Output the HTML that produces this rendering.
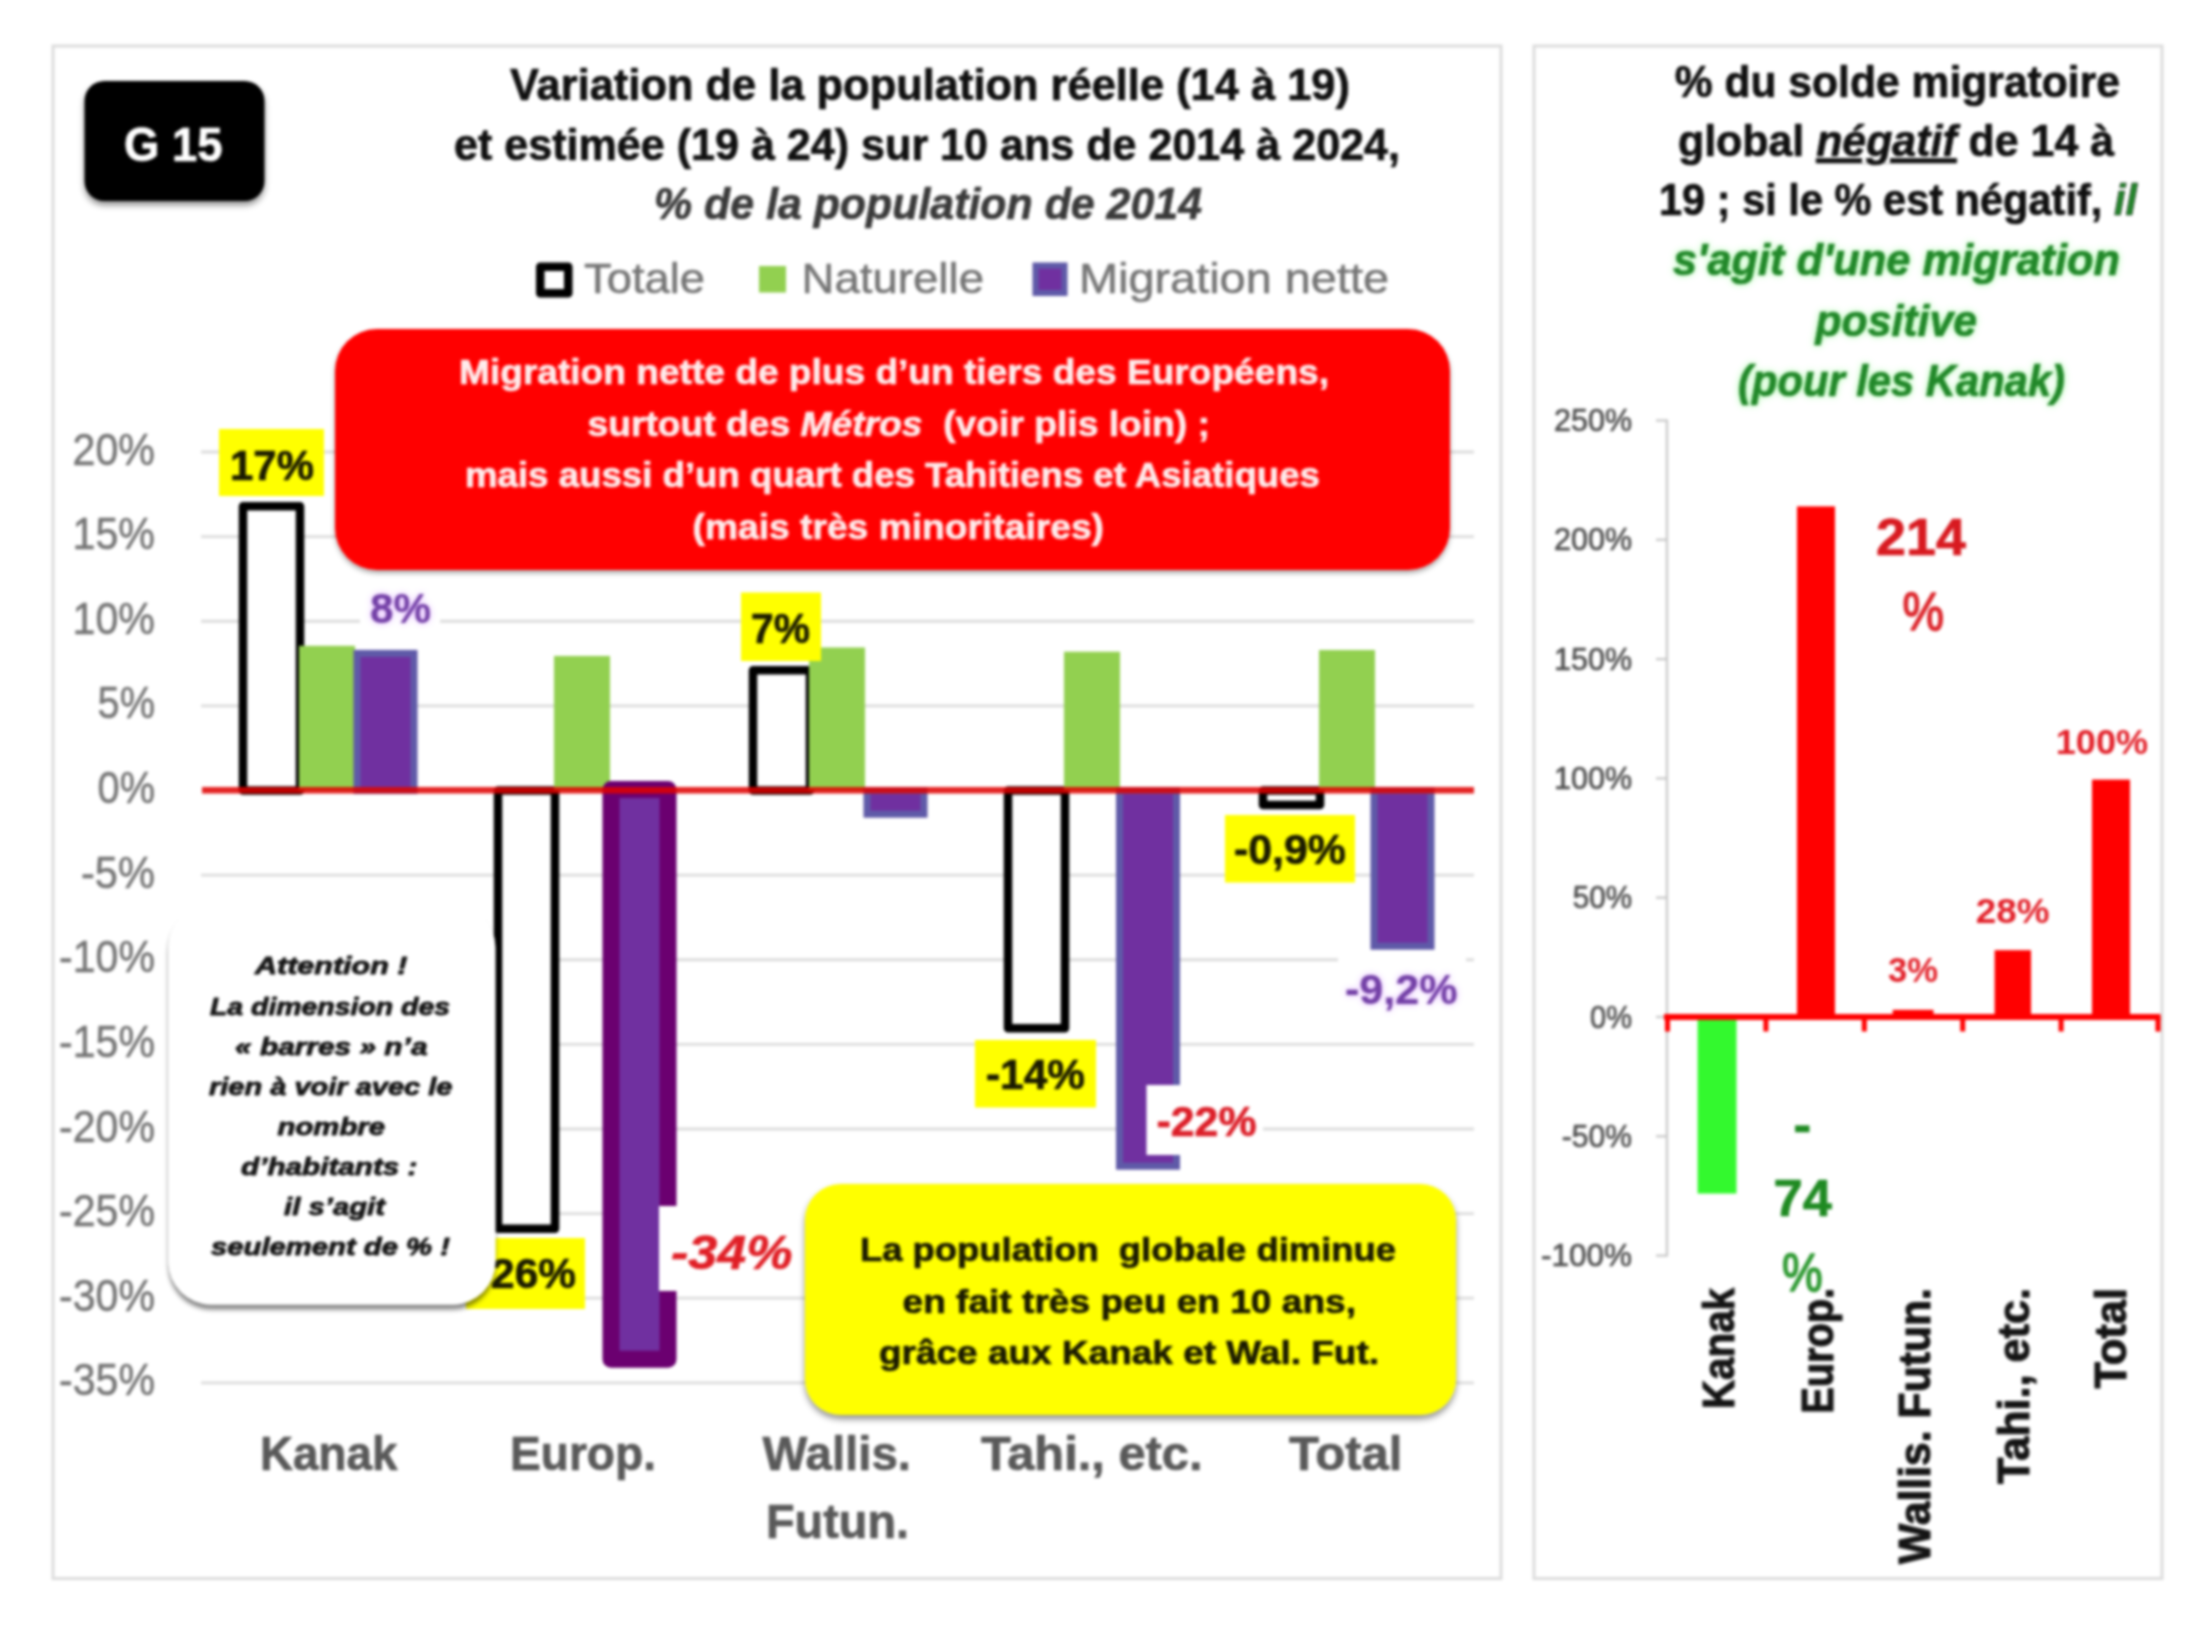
<!DOCTYPE html>
<html lang="fr">
<head>
<meta charset="utf-8">
<title>G 15 – Variation de la population</title>
<style>
html,body{margin:0;padding:0;background:#fff;}
body{width:2200px;height:1650px;overflow:hidden;font-family:"Liberation Sans", sans-serif;}
svg{display:block;filter:blur(1.8px);}
svg text{white-space:pre;}
</style>
</head>
<body>
<svg width="2200" height="1650" viewBox="0 0 2200 1650" font-family='"Liberation Sans", sans-serif' id="chart">
<defs>
<filter id="sh" x="-10%" y="-10%" width="120%" height="130%"><feGaussianBlur in="SourceAlpha" stdDeviation="3"/><feOffset dx="0" dy="4"/><feComponentTransfer><feFuncA type="linear" slope="0.45"/></feComponentTransfer><feMerge><feMergeNode/><feMergeNode in="SourceGraphic"/></feMerge></filter>
<filter id="sh2" x="-10%" y="-10%" width="120%" height="130%"><feGaussianBlur in="SourceAlpha" stdDeviation="2.5"/><feOffset dx="0" dy="3"/><feComponentTransfer><feFuncA type="linear" slope="0.35"/></feComponentTransfer><feMerge><feMergeNode/><feMergeNode in="SourceGraphic"/></feMerge></filter>
<filter id="sh3" x="-10%" y="-10%" width="120%" height="130%"><feGaussianBlur in="SourceAlpha" stdDeviation="2"/><feOffset dx="0" dy="5"/><feComponentTransfer><feFuncA type="linear" slope="0.48"/></feComponentTransfer><feMerge><feMergeNode/><feMergeNode in="SourceGraphic"/></feMerge></filter>
<filter id="glow" x="-10%" y="-30%" width="120%" height="160%"><feGaussianBlur in="SourceAlpha" stdDeviation="3.2" result="b"/><feFlood flood-color="#5cf05c" flood-opacity="0.6"/><feComposite in2="b" operator="in" result="g"/><feMerge><feMergeNode in="g"/><feMergeNode in="SourceGraphic"/></feMerge></filter>
<filter id="glowp" x="-15%" y="-30%" width="130%" height="160%"><feGaussianBlur in="SourceAlpha" stdDeviation="3" result="b"/><feFlood flood-color="#cf8cff" flood-opacity="0.7"/><feComposite in2="b" operator="in" result="g"/><feMerge><feMergeNode in="g"/><feMergeNode in="SourceGraphic"/></feMerge></filter>
</defs>
<rect width="2200" height="1650" fill="#ffffff"/>
<rect x="53" y="46" width="1448" height="1532.5" fill="#fff" stroke="#dcdcdc" stroke-width="3"/>
<rect x="1534" y="46" width="628" height="1532.5" fill="#fff" stroke="#dcdcdc" stroke-width="3"/>
<line x1="201" x2="1474" y1="452.02" y2="452.02" stroke="#dcdcdc" stroke-width="2.8"/>
<line x1="201" x2="1474" y1="536.64" y2="536.64" stroke="#dcdcdc" stroke-width="2.8"/>
<line x1="201" x2="1474" y1="621.26" y2="621.26" stroke="#dcdcdc" stroke-width="2.8"/>
<line x1="201" x2="1474" y1="705.88" y2="705.88" stroke="#dcdcdc" stroke-width="2.8"/>
<line x1="201" x2="1474" y1="875.12" y2="875.12" stroke="#dcdcdc" stroke-width="2.8"/>
<line x1="201" x2="1474" y1="959.74" y2="959.74" stroke="#dcdcdc" stroke-width="2.8"/>
<line x1="201" x2="1474" y1="1044.36" y2="1044.36" stroke="#dcdcdc" stroke-width="2.8"/>
<line x1="201" x2="1474" y1="1128.98" y2="1128.98" stroke="#dcdcdc" stroke-width="2.8"/>
<line x1="201" x2="1474" y1="1213.6" y2="1213.6" stroke="#dcdcdc" stroke-width="2.8"/>
<line x1="201" x2="1474" y1="1298.22" y2="1298.22" stroke="#dcdcdc" stroke-width="2.8"/>
<line x1="201" x2="1474" y1="1382.84" y2="1382.84" stroke="#dcdcdc" stroke-width="2.8"/>
<text x="72.5" y="464.5" textLength="82.5" lengthAdjust="spacingAndGlyphs" font-size="44" font-weight="normal" font-style="normal" fill="#747474"  stroke="#747474" stroke-width="0.5" stroke-linejoin="round">20%</text>
<text x="72.5" y="549.1" textLength="82.5" lengthAdjust="spacingAndGlyphs" font-size="44" font-weight="normal" font-style="normal" fill="#747474"  stroke="#747474" stroke-width="0.5" stroke-linejoin="round">15%</text>
<text x="72.5" y="633.8" textLength="82.5" lengthAdjust="spacingAndGlyphs" font-size="44" font-weight="normal" font-style="normal" fill="#747474"  stroke="#747474" stroke-width="0.5" stroke-linejoin="round">10%</text>
<text x="97.5" y="718.4" textLength="57.5" lengthAdjust="spacingAndGlyphs" font-size="44" font-weight="normal" font-style="normal" fill="#747474"  stroke="#747474" stroke-width="0.5" stroke-linejoin="round">5%</text>
<text x="97.5" y="803.0" textLength="57.5" lengthAdjust="spacingAndGlyphs" font-size="44" font-weight="normal" font-style="normal" fill="#747474"  stroke="#747474" stroke-width="0.5" stroke-linejoin="round">0%</text>
<text x="81" y="887.6" textLength="74" lengthAdjust="spacingAndGlyphs" font-size="44" font-weight="normal" font-style="normal" fill="#747474"  stroke="#747474" stroke-width="0.5" stroke-linejoin="round">-5%</text>
<text x="59" y="972.2" textLength="96" lengthAdjust="spacingAndGlyphs" font-size="44" font-weight="normal" font-style="normal" fill="#747474"  stroke="#747474" stroke-width="0.5" stroke-linejoin="round">-10%</text>
<text x="59" y="1056.9" textLength="96" lengthAdjust="spacingAndGlyphs" font-size="44" font-weight="normal" font-style="normal" fill="#747474"  stroke="#747474" stroke-width="0.5" stroke-linejoin="round">-15%</text>
<text x="59" y="1141.5" textLength="96" lengthAdjust="spacingAndGlyphs" font-size="44" font-weight="normal" font-style="normal" fill="#747474"  stroke="#747474" stroke-width="0.5" stroke-linejoin="round">-20%</text>
<text x="59" y="1226.1" textLength="96" lengthAdjust="spacingAndGlyphs" font-size="44" font-weight="normal" font-style="normal" fill="#747474"  stroke="#747474" stroke-width="0.5" stroke-linejoin="round">-25%</text>
<text x="59" y="1310.7" textLength="96" lengthAdjust="spacingAndGlyphs" font-size="44" font-weight="normal" font-style="normal" fill="#747474"  stroke="#747474" stroke-width="0.5" stroke-linejoin="round">-30%</text>
<text x="59" y="1395.3" textLength="96" lengthAdjust="spacingAndGlyphs" font-size="44" font-weight="normal" font-style="normal" fill="#747474"  stroke="#747474" stroke-width="0.5" stroke-linejoin="round">-35%</text>
<rect x="243" y="506.18" width="57" height="284.32" fill="#fff" stroke="#000" stroke-width="8.5" stroke-linejoin="round"/>
<rect x="299" y="645.8" width="56" height="144.7" fill="#92d050"/>
<rect x="357" y="653.42" width="57" height="137.08" fill="#7030a0" stroke="#5f5aa8" stroke-width="7"/>
<rect x="498" y="790.5" width="57" height="438.33" fill="#fff" stroke="#000" stroke-width="8.5" stroke-linejoin="round"/>
<rect x="554" y="655.95" width="56" height="134.55" fill="#92d050"/>
<rect x="611" y="789.5" width="57" height="569.65" fill="#7030a0" stroke="#6b0070" stroke-width="17" stroke-linejoin="round"/>
<rect x="753" y="670.34" width="57" height="120.16" fill="#fff" stroke="#000" stroke-width="8.5" stroke-linejoin="round"/>
<rect x="809" y="647.49" width="56" height="143.01" fill="#92d050"/>
<rect x="867" y="790.5" width="57" height="23.69" fill="#7030a0" stroke="#5f5aa8" stroke-width="7"/>
<rect x="1008" y="790.5" width="57" height="237.78" fill="#fff" stroke="#000" stroke-width="8.5" stroke-linejoin="round"/>
<rect x="1064" y="651.72" width="56" height="138.78" fill="#92d050"/>
<rect x="1119.5" y="790.5" width="57" height="375.71" fill="#7030a0" stroke="#5f5aa8" stroke-width="7"/>
<rect x="1263" y="790.5" width="57" height="14.55" fill="#fff" stroke="#000" stroke-width="8.5" stroke-linejoin="round"/>
<rect x="1319" y="650.03" width="56" height="140.47" fill="#92d050"/>
<rect x="1374" y="790.5" width="57" height="155.7" fill="#7030a0" stroke="#5f5aa8" stroke-width="7"/>
<line x1="202" x2="1474" y1="790.2" y2="790.2" stroke="#e00000" stroke-opacity="0.86" stroke-width="6.5"/>
<rect x="219" y="429" width="105" height="67" rx="0" fill="#ffff00" />
<text x="230" y="480" textLength="84" lengthAdjust="spacingAndGlyphs" font-size="43" font-weight="bold" font-style="normal" fill="#1a1a00"  stroke="#1a1a00" stroke-width="0.7" stroke-linejoin="round">17%</text>
<rect x="741" y="592.5" width="80" height="68.5" rx="0" fill="#ffff00" />
<text x="751" y="642.5" textLength="59" lengthAdjust="spacingAndGlyphs" font-size="43" font-weight="bold" font-style="normal" fill="#1a1a00"  stroke="#1a1a00" stroke-width="0.7" stroke-linejoin="round">7%</text>
<rect x="975" y="1040" width="121" height="67.5" rx="0" fill="#ffff00" />
<text x="986" y="1089" textLength="99" lengthAdjust="spacingAndGlyphs" font-size="43" font-weight="bold" font-style="normal" fill="#1a1a00"  stroke="#1a1a00" stroke-width="0.7" stroke-linejoin="round">-14%</text>
<rect x="1225" y="815" width="130" height="67.5" rx="0" fill="#ffff00" />
<text x="1234" y="864" textLength="112" lengthAdjust="spacingAndGlyphs" font-size="43" font-weight="bold" font-style="normal" fill="#1a1a00"  stroke="#1a1a00" stroke-width="0.7" stroke-linejoin="round">-0,9%</text>
<rect x="466" y="1238" width="119" height="71" rx="0" fill="#ffff00" />
<text x="477" y="1287.5" textLength="99" lengthAdjust="spacingAndGlyphs" font-size="43" font-weight="bold" font-style="normal" fill="#1a1a00"  stroke="#1a1a00" stroke-width="0.7" stroke-linejoin="round">-26%</text>
<rect x="360" y="584" width="80" height="52" rx="0" fill="#fff" />
<text x="370" y="622.5" textLength="61" lengthAdjust="spacingAndGlyphs" font-size="42" font-weight="bold" font-style="normal" fill="#7340a6" filter="url(#glowp)" stroke="#7340a6" stroke-width="0.2" stroke-linejoin="round">8%</text>
<rect x="1338" y="950" width="128" height="66" rx="0" fill="#fff" />
<text x="1345" y="1004" textLength="112.5" lengthAdjust="spacingAndGlyphs" font-size="42" font-weight="bold" font-style="normal" fill="#7340a6" filter="url(#glowp)" stroke="#7340a6" stroke-width="0.2" stroke-linejoin="round">-9,2%</text>
<rect x="1146.5" y="1085" width="116.5" height="70" rx="0" fill="#fff" />
<text x="1156.5" y="1136" textLength="100.0" lengthAdjust="spacingAndGlyphs" font-size="43" font-weight="bold" font-style="normal" fill="#dc1e28"  stroke="#dc1e28" stroke-width="0.7" stroke-linejoin="round">-22%</text>
<rect x="659" y="1206" width="149" height="85" rx="0" fill="#fff" />
<text x="671" y="1269" textLength="121.5" lengthAdjust="spacingAndGlyphs" font-size="49" font-weight="bold" font-style="italic" fill="#e01f26"  stroke="#e01f26" stroke-width="0.7" stroke-linejoin="round">-34%</text>
<text x="510" y="100" textLength="840" lengthAdjust="spacingAndGlyphs" font-size="44.5" font-weight="bold" font-style="normal" fill="#101010"  stroke="#101010" stroke-width="0.7" stroke-linejoin="round">Variation de la population réelle (14 à 19)</text>
<text x="454" y="160" textLength="946" lengthAdjust="spacingAndGlyphs" font-size="44.5" font-weight="bold" font-style="normal" fill="#101010"  stroke="#101010" stroke-width="0.7" stroke-linejoin="round">et estimée (19 à 24) sur 10 ans de 2014 à 2024,</text>
<text x="654" y="219" textLength="548" lengthAdjust="spacingAndGlyphs" font-size="44.5" font-weight="bold" font-style="italic" fill="#3a3a3a"  stroke="#3a3a3a" stroke-width="0.7" stroke-linejoin="round">% de la population de 2014</text>
<rect x="84.5" y="81" width="180" height="120" rx="20" fill="#000" filter="url(#sh)"/>
<text x="124" y="161" textLength="98.5" lengthAdjust="spacingAndGlyphs" font-size="49" font-weight="bold" font-style="normal" fill="#fff"  stroke="#fff" stroke-width="0.7" stroke-linejoin="round">G 15</text>
<rect x="540.25" y="266.75" width="28" height="26.5" fill="#fff" stroke="#000" stroke-width="8.5" stroke-linejoin="round"/>
<text x="584" y="292.5" textLength="121" lengthAdjust="spacingAndGlyphs" font-size="42" font-weight="normal" font-style="normal" fill="#747474"  stroke="#747474" stroke-width="0.5" stroke-linejoin="round">Totale</text>
<rect x="759" y="266" width="27" height="26.5" rx="0" fill="#92d050" />
<text x="801.5" y="292.5" textLength="182.5" lengthAdjust="spacingAndGlyphs" font-size="42" font-weight="normal" font-style="normal" fill="#747474"  stroke="#747474" stroke-width="0.5" stroke-linejoin="round">Naturelle</text>
<rect x="1035.5" y="265.5" width="29" height="27.5" fill="#7030a0" stroke="#5f5aa8" stroke-width="6"/>
<text x="1079" y="292.5" textLength="310" lengthAdjust="spacingAndGlyphs" font-size="42" font-weight="normal" font-style="normal" fill="#747474"  stroke="#747474" stroke-width="0.5" stroke-linejoin="round">Migration nette</text>
<rect x="335" y="329" width="1115" height="241" rx="42" fill="#ff0000" filter="url(#sh2)"/>
<text x="459" y="384" textLength="870" lengthAdjust="spacingAndGlyphs" font-size="34.5" font-weight="bold" font-style="normal" fill="#ffecec"  stroke="#ffecec" stroke-width="0.7" stroke-linejoin="round">Migration nette de plus d’un tiers des Européens,</text>
<text x="587.5" y="436" textLength="622.5" lengthAdjust="spacingAndGlyphs" font-size="34.5" font-weight="bold" font-style="normal" fill="#ffecec" xml:space="preserve" stroke="#ffecec" stroke-width="0.7" stroke-linejoin="round">surtout des <tspan font-style="italic">Métros</tspan>  (voir plis loin) ;</text>
<text x="465" y="486.5" textLength="855" lengthAdjust="spacingAndGlyphs" font-size="34.5" font-weight="bold" font-style="normal" fill="#ffecec"  stroke="#ffecec" stroke-width="0.7" stroke-linejoin="round">mais aussi d’un quart des Tahitiens et Asiatiques</text>
<text x="692.5" y="539" textLength="411.5" lengthAdjust="spacingAndGlyphs" font-size="34.5" font-weight="bold" font-style="normal" fill="#ffecec"  stroke="#ffecec" stroke-width="0.7" stroke-linejoin="round">(mais très minoritaires)</text>
<rect x="168.5" y="904.5" width="327" height="400" rx="43" fill="#fff" filter="url(#sh3)"/>
<text x="255" y="974" textLength="152.5" lengthAdjust="spacingAndGlyphs" font-size="24.5" font-weight="bold" font-style="italic" fill="#161616"  stroke="#161616" stroke-width="0.9" stroke-linejoin="round">Attention !</text>
<text x="210" y="1015" textLength="240" lengthAdjust="spacingAndGlyphs" font-size="24.5" font-weight="bold" font-style="italic" fill="#161616"  stroke="#161616" stroke-width="0.9" stroke-linejoin="round">La dimension des</text>
<text x="235" y="1054.5" textLength="192.5" lengthAdjust="spacingAndGlyphs" font-size="24.5" font-weight="bold" font-style="italic" fill="#161616"  stroke="#161616" stroke-width="0.9" stroke-linejoin="round">« barres » n’a</text>
<text x="209" y="1094.5" textLength="243.5" lengthAdjust="spacingAndGlyphs" font-size="24.5" font-weight="bold" font-style="italic" fill="#161616"  stroke="#161616" stroke-width="0.9" stroke-linejoin="round">rien à voir avec le</text>
<text x="277.5" y="1135" textLength="107.5" lengthAdjust="spacingAndGlyphs" font-size="24.5" font-weight="bold" font-style="italic" fill="#161616"  stroke="#161616" stroke-width="0.9" stroke-linejoin="round">nombre</text>
<text x="241" y="1175" textLength="176.5" lengthAdjust="spacingAndGlyphs" font-size="24.5" font-weight="bold" font-style="italic" fill="#161616"  stroke="#161616" stroke-width="0.9" stroke-linejoin="round">d’habitants :</text>
<text x="284" y="1214.5" textLength="101" lengthAdjust="spacingAndGlyphs" font-size="24.5" font-weight="bold" font-style="italic" fill="#161616"  stroke="#161616" stroke-width="0.9" stroke-linejoin="round">il s’agit</text>
<text x="211" y="1255" textLength="239" lengthAdjust="spacingAndGlyphs" font-size="24.5" font-weight="bold" font-style="italic" fill="#161616"  stroke="#161616" stroke-width="0.9" stroke-linejoin="round">seulement de % !</text>
<rect x="805" y="1184" width="651" height="231" rx="36" fill="#ffff00" filter="url(#sh)"/>
<text x="860" y="1261" textLength="536" lengthAdjust="spacingAndGlyphs" font-size="33.5" font-weight="bold" font-style="normal" fill="#1a1a00" xml:space="preserve" stroke="#1a1a00" stroke-width="0.7" stroke-linejoin="round">La population  globale diminue</text>
<text x="902.5" y="1312.5" textLength="453.5" lengthAdjust="spacingAndGlyphs" font-size="33.5" font-weight="bold" font-style="normal" fill="#1a1a00"  stroke="#1a1a00" stroke-width="0.7" stroke-linejoin="round">en fait très peu en 10 ans,</text>
<text x="879" y="1364" textLength="500" lengthAdjust="spacingAndGlyphs" font-size="33.5" font-weight="bold" font-style="normal" fill="#1a1a00"  stroke="#1a1a00" stroke-width="0.7" stroke-linejoin="round">grâce aux Kanak et Wal. Fut.</text>
<text x="260" y="1470" textLength="137.5" lengthAdjust="spacingAndGlyphs" font-size="47.5" font-weight="bold" font-style="normal" fill="#595959"  stroke="#595959" stroke-width="0.7" stroke-linejoin="round">Kanak</text>
<text x="510" y="1470" textLength="146" lengthAdjust="spacingAndGlyphs" font-size="47.5" font-weight="bold" font-style="normal" fill="#595959"  stroke="#595959" stroke-width="0.7" stroke-linejoin="round">Europ.</text>
<text x="762.5" y="1470" textLength="148.5" lengthAdjust="spacingAndGlyphs" font-size="47.5" font-weight="bold" font-style="normal" fill="#595959"  stroke="#595959" stroke-width="0.7" stroke-linejoin="round">Wallis.</text>
<text x="766" y="1537.5" textLength="143" lengthAdjust="spacingAndGlyphs" font-size="47.5" font-weight="bold" font-style="normal" fill="#595959"  stroke="#595959" stroke-width="0.7" stroke-linejoin="round">Futun.</text>
<text x="981" y="1470" textLength="221.5" lengthAdjust="spacingAndGlyphs" font-size="47.5" font-weight="bold" font-style="normal" fill="#595959"  stroke="#595959" stroke-width="0.7" stroke-linejoin="round">Tahi., etc.</text>
<text x="1289" y="1470" textLength="113.5" lengthAdjust="spacingAndGlyphs" font-size="47.5" font-weight="bold" font-style="normal" fill="#595959"  stroke="#595959" stroke-width="0.7" stroke-linejoin="round">Total</text>
<text x="1674.7" y="96.5" textLength="445.3" lengthAdjust="spacingAndGlyphs" font-size="44.5" font-weight="bold" font-style="normal" fill="#101010" xml:space="preserve" stroke="#101010" stroke-width="0.7" stroke-linejoin="round">% du solde migratoire</text>
<text x="1678" y="155.5" textLength="436" lengthAdjust="spacingAndGlyphs" font-size="44.5" font-weight="bold" font-style="normal" fill="#101010"  stroke="#101010" stroke-width="0.7" stroke-linejoin="round">global <tspan font-style="italic" text-decoration="underline">négatif</tspan> de 14 à</text>
<text x="1659" y="215" textLength="478" lengthAdjust="spacingAndGlyphs" font-size="44.5" font-weight="bold" font-style="normal" fill="#101010"  stroke="#101010" stroke-width="0.7" stroke-linejoin="round">19 ; si le % est négatif, <tspan font-style="italic" fill="#23882b">il</tspan></text>
<text x="1673" y="274.7" textLength="447" lengthAdjust="spacingAndGlyphs" font-size="44.5" font-weight="bold" font-style="italic" fill="#23882b" filter="url(#glow)" stroke="#23882b" stroke-width="0.7" stroke-linejoin="round">s'agit d'une migration</text>
<text x="1815.5" y="336" textLength="161.5" lengthAdjust="spacingAndGlyphs" font-size="44.5" font-weight="bold" font-style="italic" fill="#23882b" filter="url(#glow)" stroke="#23882b" stroke-width="0.7" stroke-linejoin="round">positive</text>
<text x="1738" y="395.5" textLength="327" lengthAdjust="spacingAndGlyphs" font-size="44.5" font-weight="bold" font-style="italic" fill="#23882b" filter="url(#glow)" stroke="#23882b" stroke-width="0.7" stroke-linejoin="round">(pour les Kanak)</text>
<line x1="1667" x2="1667" y1="419.5" y2="1256.6" stroke="#c6c6c6" stroke-width="2.2"/>
<line x1="1656" x2="1667" y1="420.5" y2="420.5" stroke="#c6c6c6" stroke-width="2.2"/>
<text x="1554" y="431.0" textLength="78" lengthAdjust="spacingAndGlyphs" font-size="31" font-weight="normal" font-style="normal" fill="#505050"  stroke="#505050" stroke-width="0.7" stroke-linejoin="round">250%</text>
<line x1="1656" x2="1667" y1="539.8" y2="539.8" stroke="#c6c6c6" stroke-width="2.2"/>
<text x="1554" y="550.3" textLength="78" lengthAdjust="spacingAndGlyphs" font-size="31" font-weight="normal" font-style="normal" fill="#505050"  stroke="#505050" stroke-width="0.7" stroke-linejoin="round">200%</text>
<line x1="1656" x2="1667" y1="659.1" y2="659.1" stroke="#c6c6c6" stroke-width="2.2"/>
<text x="1554" y="669.6" textLength="78" lengthAdjust="spacingAndGlyphs" font-size="31" font-weight="normal" font-style="normal" fill="#505050"  stroke="#505050" stroke-width="0.7" stroke-linejoin="round">150%</text>
<line x1="1656" x2="1667" y1="778.4" y2="778.4" stroke="#c6c6c6" stroke-width="2.2"/>
<text x="1554" y="788.9" textLength="78" lengthAdjust="spacingAndGlyphs" font-size="31" font-weight="normal" font-style="normal" fill="#505050"  stroke="#505050" stroke-width="0.7" stroke-linejoin="round">100%</text>
<line x1="1656" x2="1667" y1="897.7" y2="897.7" stroke="#c6c6c6" stroke-width="2.2"/>
<text x="1572.7" y="908.2" textLength="59.3" lengthAdjust="spacingAndGlyphs" font-size="31" font-weight="normal" font-style="normal" fill="#505050"  stroke="#505050" stroke-width="0.7" stroke-linejoin="round">50%</text>
<line x1="1656" x2="1667" y1="1017.0" y2="1017.0" stroke="#c6c6c6" stroke-width="2.2"/>
<text x="1590" y="1027.5" textLength="42" lengthAdjust="spacingAndGlyphs" font-size="31" font-weight="normal" font-style="normal" fill="#505050"  stroke="#505050" stroke-width="0.7" stroke-linejoin="round">0%</text>
<line x1="1656" x2="1667" y1="1136.3" y2="1136.3" stroke="#c6c6c6" stroke-width="2.2"/>
<text x="1561.8" y="1146.8" textLength="70.2" lengthAdjust="spacingAndGlyphs" font-size="31" font-weight="normal" font-style="normal" fill="#505050"  stroke="#505050" stroke-width="0.7" stroke-linejoin="round">-50%</text>
<line x1="1656" x2="1667" y1="1255.6" y2="1255.6" stroke="#c6c6c6" stroke-width="2.2"/>
<text x="1541" y="1266.1" textLength="91" lengthAdjust="spacingAndGlyphs" font-size="31" font-weight="normal" font-style="normal" fill="#505050"  stroke="#505050" stroke-width="0.7" stroke-linejoin="round">-100%</text>
<rect x="1697.6" y="1017.0" width="38.9" height="176.56" rx="0" fill="#33f92e" />
<rect x="1797" y="506.4" width="38" height="510.6" rx="0" fill="#ff0000" />
<rect x="1892.7" y="1009.84" width="40.8" height="7.16" rx="0" fill="#ff0000" />
<rect x="1994.6" y="950.19" width="36.4" height="66.81" rx="0" fill="#ff0000" />
<rect x="2092" y="779.59" width="38" height="237.41" rx="0" fill="#ff0000" />
<line x1="1664" x2="2160.5" y1="1017.0" y2="1017.0" stroke="#ff0000" stroke-width="6"/>
<line x1="1667.5" x2="1667.5" y1="1017.0" y2="1031.5" stroke="#ff0000" stroke-width="5"/>
<line x1="1765.9" x2="1765.9" y1="1017.0" y2="1031.5" stroke="#ff0000" stroke-width="5"/>
<line x1="1864.3" x2="1864.3" y1="1017.0" y2="1031.5" stroke="#ff0000" stroke-width="5"/>
<line x1="1962.7" x2="1962.7" y1="1017.0" y2="1031.5" stroke="#ff0000" stroke-width="5"/>
<line x1="2061.1" x2="2061.1" y1="1017.0" y2="1031.5" stroke="#ff0000" stroke-width="5"/>
<line x1="2158" x2="2158" y1="1017.0" y2="1031.5" stroke="#ff0000" stroke-width="5"/>
<text x="1876" y="554.7" textLength="90" lengthAdjust="spacingAndGlyphs" font-size="51" font-weight="bold" font-style="normal" fill="#d81a20"  stroke="#d81a20" stroke-width="0.7" stroke-linejoin="round">214</text>
<text x="1902.5" y="630" textLength="41.5" lengthAdjust="spacingAndGlyphs" font-size="54" font-weight="normal" font-style="normal" fill="#dc262c"  stroke="#dc262c" stroke-width="1.6" stroke-linejoin="round">%</text>
<text x="2055.8" y="753.8" textLength="92.2" lengthAdjust="spacingAndGlyphs" font-size="34.5" font-weight="bold" font-style="normal" fill="#e21f28" >100%</text>
<text x="1975.8" y="923" textLength="73.7" lengthAdjust="spacingAndGlyphs" font-size="34.5" font-weight="bold" font-style="normal" fill="#e21f28" >28%</text>
<text x="1888" y="982" textLength="50" lengthAdjust="spacingAndGlyphs" font-size="34.5" font-weight="bold" font-style="normal" fill="#e21f28" >3%</text>
<text x="1793.3" y="1141.5" textLength="18.0" lengthAdjust="spacingAndGlyphs" font-size="52.5" font-weight="bold" font-style="normal" fill="#1f8a22"  stroke="#1f8a22" stroke-width="0.7" stroke-linejoin="round">-</text>
<text x="1773.5" y="1216" textLength="58.5" lengthAdjust="spacingAndGlyphs" font-size="52.5" font-weight="bold" font-style="normal" fill="#1f8a22"  stroke="#1f8a22" stroke-width="0.7" stroke-linejoin="round">74</text>
<text x="1782" y="1291" textLength="40.7" lengthAdjust="spacingAndGlyphs" font-size="53" font-weight="normal" font-style="normal" fill="#2f9a33"  stroke="#2f9a33" stroke-width="1.6" stroke-linejoin="round">%</text>
<text transform="translate(1734,1409) rotate(-90)" x="0" y="0" textLength="121" lengthAdjust="spacingAndGlyphs" font-size="44" font-weight="bold" fill="#141414" stroke="#141414" stroke-width="1.1" stroke-linejoin="round">Kanak</text>
<text transform="translate(1833,1413.7) rotate(-90)" x="0" y="0" textLength="125.7" lengthAdjust="spacingAndGlyphs" font-size="44" font-weight="bold" fill="#141414" stroke="#141414" stroke-width="1.1" stroke-linejoin="round">Europ.</text>
<text transform="translate(1930,1564) rotate(-90)" x="0" y="0" textLength="276" lengthAdjust="spacingAndGlyphs" font-size="44" font-weight="bold" fill="#141414" stroke="#141414" stroke-width="1.1" stroke-linejoin="round">Wallis. Futun.</text>
<text transform="translate(2029,1484) rotate(-90)" x="0" y="0" textLength="196" lengthAdjust="spacingAndGlyphs" font-size="44" font-weight="bold" fill="#141414" stroke="#141414" stroke-width="1.1" stroke-linejoin="round">Tahi., etc.</text>
<text transform="translate(2126,1388.6) rotate(-90)" x="0" y="0" textLength="100.6" lengthAdjust="spacingAndGlyphs" font-size="44" font-weight="bold" fill="#141414" stroke="#141414" stroke-width="1.1" stroke-linejoin="round">Total</text>
</svg>
</body>
</html>
